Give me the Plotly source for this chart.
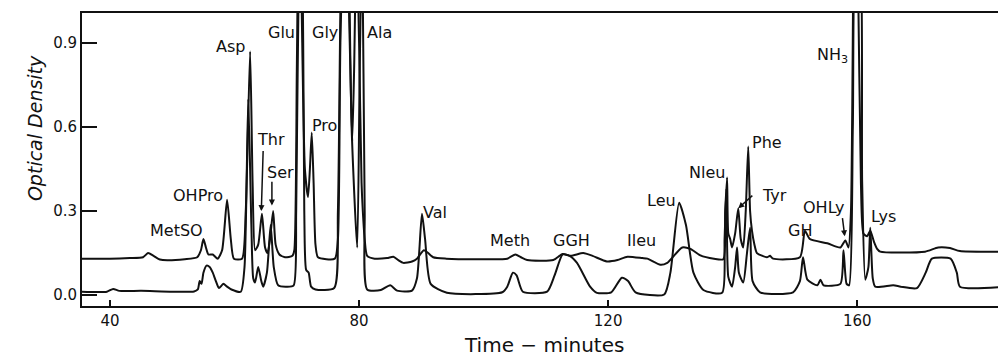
import plotly.graph_objects as go

# Time (minutes) and optical density readings, upper trace (baseline ~0.13)
upper_t = [35.5, 40.0, 43.2, 45.3, 46.1, 47.0, 48.0, 49.2, 52.0, 54.0, 54.6, 55.0, 55.4, 55.8,
           56.5, 57.3, 58.0, 58.8, 59.4, 59.9, 61.2, 61.8, 62.5, 62.9, 63.3, 63.8, 64.4, 64.9,
           65.3, 65.7, 66.2, 66.6, 67.2, 68.1, 69.3, 69.6, 70.0, 70.4, 70.8, 71.3, 71.8, 72.1,
           72.4, 72.7, 73.0, 73.4, 76.1, 76.6, 77.0, 77.8, 78.5, 78.9, 79.2, 79.6, 80.0, 80.4,
           80.6, 80.9, 81.3, 82.5, 84.5, 85.5, 86.3, 87.1, 88.5, 89.3, 90.4, 91.1, 91.9, 94.0,
           100.0, 103.8, 105.1, 106.0, 107.0, 111.2, 112.7, 114.0, 116.0, 117.5, 119.8, 121.5,
           123.1, 125.5, 126.3, 128.4, 129.5, 131.9, 133.2, 134.8, 137.0, 138.5, 138.8, 139.1,
           139.3, 139.6, 139.9, 140.4, 140.9, 141.3, 141.7, 142.1, 142.5, 142.8, 143.1, 143.5,
           143.9, 145.5, 146.0, 146.5, 150.8, 151.6, 152.4, 155.2, 157.3, 158.1, 158.6, 159.0,
           159.4, 159.7, 160.1, 160.6, 161.0, 161.6, 162.1, 162.7, 163.2, 163.7, 170.9, 173.0,
           174.9, 176.5, 183.9]
upper_od = [0.13, 0.13, 0.132, 0.135, 0.15, 0.14, 0.127, 0.124, 0.128, 0.135, 0.16, 0.2, 0.17, 0.145,
            0.145, 0.13, 0.16, 0.34, 0.2, 0.13, 0.13, 0.3, 0.87, 0.4, 0.16, 0.18, 0.29, 0.17,
            0.15, 0.2, 0.3, 0.18, 0.145, 0.135, 0.14, 0.16, 0.8, 1.6, 1.0, 0.45, 0.35, 0.45,
            0.58, 0.4, 0.18, 0.135, 0.13, 0.2, 0.9, 1.5, 0.9, 0.55, 0.8, 1.3, 0.9, 0.4,
            0.3, 0.2, 0.14, 0.13, 0.132, 0.137, 0.125, 0.115, 0.12, 0.13, 0.16, 0.15, 0.135, 0.13,
            0.128, 0.13, 0.145, 0.135, 0.125, 0.125, 0.147, 0.14, 0.15, 0.14, 0.12, 0.125,
            0.137, 0.132, 0.13, 0.108, 0.115, 0.17, 0.165, 0.142, 0.13, 0.128, 0.3, 0.42,
            0.22, 0.2, 0.17, 0.22, 0.31, 0.2, 0.17, 0.3, 0.53, 0.3, 0.23, 0.18,
            0.15, 0.135, 0.14, 0.13, 0.135, 0.23, 0.2, 0.185, 0.17, 0.195, 0.17, 0.3,
            1.2, 1.6, 1.2, 0.4, 0.22, 0.21, 0.23, 0.19, 0.165, 0.155, 0.155, 0.17,
            0.168, 0.157, 0.155]

# Lower trace (baseline ~0.01)
lower_t = [35.5, 39.5, 40.5, 41.5, 45.0, 50.0, 53.5, 54.1, 54.4, 54.7, 55.0, 55.5, 56.0, 56.5,
           57.0, 57.5, 58.2, 58.8, 59.5, 61.0, 61.6, 62.2, 62.7, 63.0, 63.3, 63.8, 64.3, 64.6,
           65.2, 65.8, 66.3, 67.0, 68.5, 69.5, 69.9, 70.4, 70.8, 71.2, 71.5, 71.9, 72.3, 73.0,
           76.0, 76.6, 77.2, 78.0, 78.8, 79.7, 80.1, 80.5, 80.9, 81.3, 83.5, 85.0, 86.1, 88.5,
           89.3, 90.1, 90.6, 91.5, 94.1, 103.0, 103.8, 104.7, 105.3, 106.3, 110.2, 111.4, 112.7,
           113.8, 115.0, 117.1, 118.2, 120.5, 122.2, 123.2, 124.4, 129.0, 130.0, 131.4, 132.5,
           133.7, 135.3, 138.3, 138.7, 139.0, 139.3, 139.9, 140.4, 140.7, 141.0, 141.7, 142.3,
           142.8, 143.2, 144.4, 149.7, 150.8, 151.3, 152.0, 153.6, 154.1, 154.6, 157.3, 157.8,
           158.3, 158.7, 159.3, 159.9, 160.3, 160.8, 161.3, 161.8, 162.1, 162.5, 162.9, 165.8,
           167.0, 169.6, 171.0, 172.0, 175.0, 176.0, 176.5, 183.9]
lower_od = [0.012, 0.012, 0.022, 0.015, 0.015, 0.012, 0.013, 0.02, 0.05, 0.04, 0.08, 0.105, 0.1, 0.08,
            0.05, 0.025, 0.04, 0.03, 0.02, 0.012, 0.1, 0.7, 0.25, 0.06, 0.045, 0.1, 0.05, 0.03,
            0.08, 0.25, 0.1, 0.035, 0.03, 0.035, 0.3, 1.3, 1.5, 0.3, 0.09, 0.08, 0.03, 0.02,
            0.025, 0.3, 1.3, 1.6, 0.6, 0.17, 0.8, 1.3, 0.3, 0.02, 0.018, 0.035, 0.016, 0.016,
            0.06, 0.29, 0.2, 0.04, 0.008, 0.01, 0.03, 0.08, 0.07, 0.012, 0.012, 0.07, 0.145,
            0.14, 0.115, 0.03, 0.008, 0.01, 0.062, 0.05, 0.01, 0.002, 0.08, 0.33, 0.25,
            0.08, 0.018, 0.008, 0.2, 0.38, 0.065, 0.03, 0.1, 0.17, 0.08, 0.045, 0.15,
            0.24, 0.05, 0.01, 0.01, 0.05, 0.135, 0.055, 0.035, 0.055, 0.035, 0.04, 0.16,
            0.04, 0.035, 0.6, 1.3, 1.3, 0.4, 0.055, 0.1, 0.24, 0.06, 0.03, 0.035,
            0.03, 0.025, 0.08, 0.13, 0.13, 0.08, 0.03, 0.03]

# Peak labels
label_text = ["MetSO", "OHPro", "Asp", "Thr", "Ser", "Glu", "Gly", "Pro", "Ala", "Val",
              "Meth", "GGH", "Ileu", "Leu", "Nleu", "Phe", "Tyr", "GH", "OHLy",
              "NH<sub>3</sub>", "Lys"]
label_t = [50.6, 54.1, 59.4, 65.9, 67.3, 67.6, 74.5, 74.4, 83.2, 92.2,
           104.3, 114.1, 125.3, 128.5, 135.9, 145.5, 146.7, 150.8, 154.7, 156.0, 164.2]
label_od = [0.232, 0.354, 0.886, 0.557, 0.439, 0.936, 0.936, 0.607, 0.936, 0.296,
            0.196, 0.196, 0.196, 0.339, 0.439, 0.543, 0.354, 0.232, 0.314, 0.857, 0.279]

x_ticks = [40, 80, 120, 160]
y_ticks = [0.0, 0.3, 0.6, 0.9]
y_tick_text = ["0.0", "0.3", "0.6", "0.9"]

FONT = "DejaVu Sans"
INK = "#111111"

fig = go.Figure()
fig.add_trace(go.Scatter(x=upper_t, y=upper_od, mode="lines",
                         line=dict(color=INK, width=2, shape="spline", smoothing=0.6),
                         showlegend=False))
fig.add_trace(go.Scatter(x=lower_t, y=lower_od, mode="lines",
                         line=dict(color=INK, width=2, shape="spline", smoothing=0.6),
                         showlegend=False))

for txt, t, od in zip(label_text, label_t, label_od):
    fig.add_annotation(x=t, y=od, text=txt, showarrow=False,
                       font=dict(family=FONT, size=16, color=INK))

# leader arrows (Thr, Ser, Tyr, OHLy)
arrows = [(64.3, 0.30, 64.6, 0.52), (66.0, 0.32, 66.0, 0.41), (140.9, 0.31, 143.4, 0.36),
          (158.0, 0.21, 157.6, 0.28)]
for x, y, ax, ay in arrows:
    fig.add_annotation(x=x, y=y, ax=ax, ay=ay, axref="x", ayref="y", text="",
                       showarrow=True, arrowhead=2, arrowsize=0.8, arrowwidth=1.5,
                       arrowcolor=INK)

fig.add_annotation(x=-0.065, y=0.607, xref="paper", yref="paper", text="<i>Optical Density</i>",
                   textangle=-90, showarrow=False, font=dict(family=FONT, size=19, color=INK))
fig.add_annotation(x=0.5, y=-0.133, xref="paper", yref="paper", yanchor="middle",
                   text="Time \u2212 minutes", showarrow=False,
                   font=dict(family=FONT, size=20, color=INK))

fig.update_xaxes(range=[35.5, 183.9], tickvals=x_ticks, ticks="inside", ticklen=6, tickwidth=2,
                 tickcolor=INK, showline=True, linewidth=2, linecolor=INK, mirror=True,
                 showgrid=False, zeroline=False, automargin=False,
                 tickfont=dict(family=FONT, size=15, color=INK))
fig.update_yaxes(range=[-0.039, 1.007], tickvals=y_ticks, ticktext=y_tick_text, ticks="inside",
                 ticklen=15, tickwidth=2, tickcolor=INK, showline=True, linewidth=2,
                 linecolor=INK, showgrid=False, zeroline=False, automargin=False,
                 tickfont=dict(family=FONT, size=15, color=INK))
# page body has an 8px default margin, so the figure is 8px smaller than the window
fig.update_layout(width=998, height=351, margin=dict(l=74, r=0, t=5, b=53, autoexpand=False),
                  plot_bgcolor="white", paper_bgcolor="white")

fig.write_html("out.html")
